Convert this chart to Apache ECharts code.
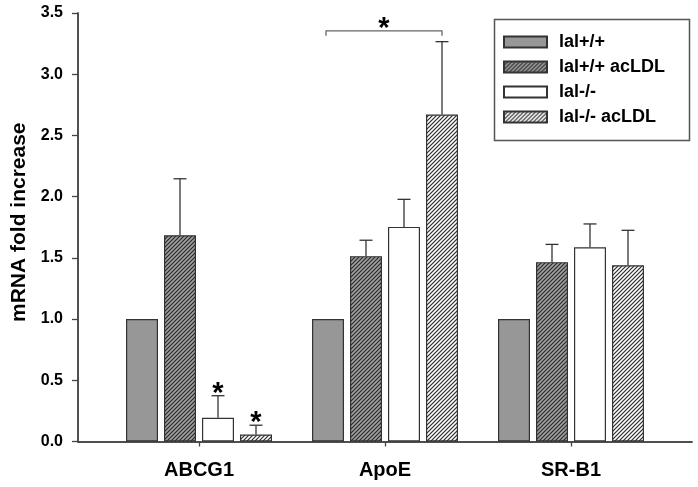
<!DOCTYPE html>
<html>
<head>
<meta charset="utf-8">
<script src="https://cdn.jsdelivr.net/npm/echarts@6/dist/echarts.min.js"></script>
<style>
html,body{margin:0;padding:0;background:#fff;}
#c{width:698px;height:487px;}
</style>
</head>
<body>
<div id="c"></div>
<script>
// ---- data ----
const categories = ['ABCG1', 'ApoE', 'SR-B1'];
const seriesNames = ['lal+/+', 'lal+/+ acLDL', 'lal-/-', 'lal-/- acLDL'];
const wt      = [1.0, 1.0, 1.0];
const wtAc    = [1.685, 1.514, 1.465];
const ko      = [0.193, 1.753, 1.587];
const koAc    = [0.057, 2.67, 1.44];
const wtErr   = [0, 0, 0];
const wtAcErr = [0.461, 0.13, 0.145];
const koErr   = [0.181, 0.225, 0.19];
const koAcErr = [0.076, 0.596, 0.285];
const yTicks  = [0, 0.5, 1.0, 1.5, 2.0, 2.5, 3.0, 3.5];
// significance: stars above bars (category index, bar index)
const starBars = [[0, 2], [0, 3]];
// bracket: category, from bar, to bar, height value
const brackets = [[1, 0, 3, 3.354]];

const FONT = '"Liberation Sans", Arial, Helvetica, sans-serif';
const BAR_W = 32, GAP_PX = 6;
const LINE = '#333';

function hatch(bg, fg) {
  const s = 4;
  const cv = document.createElement('canvas');
  cv.width = s; cv.height = s;
  const ctx = cv.getContext('2d');
  ctx.fillStyle = bg; ctx.fillRect(0, 0, s, s);
  ctx.strokeStyle = fg; ctx.lineWidth = 1.2;
  ctx.beginPath();
  ctx.moveTo(-1, s + 1); ctx.lineTo(s + 1, -1);
  ctx.moveTo(-1, 1); ctx.lineTo(1, -1);
  ctx.moveTo(s - 1, s + 1); ctx.lineTo(s + 1, s - 1);
  ctx.stroke();
  return { image: cv, repeat: 'repeat' };
}

const fills = ['#979797', hatch('#a0a0a0', '#2a2a2a'), '#ffffff', hatch('#ffffff', '#2a2a2a')];
const values = [wt, wtAc, ko, koAc];
const errs = [wtErr, wtAcErr, koErr, koAcErr];

const barSeries = seriesNames.map((name, i) => ({
  name: name,
  type: 'bar',
  xAxisIndex: 2, yAxisIndex: 2,
  barWidth: BAR_W,
  barGap: (GAP_PX / BAR_W * 100) + '%',
  data: values[i],
  itemStyle: { color: fills[i], borderColor: LINE, borderWidth: 1.2 },
  emphasis: { disabled: true },
  animation: false
}));

// error bar data: [cat, barIdx, mean, err]
const errData = [];
values.forEach((arr, b) => arr.forEach((v, c) => { if (errs[b][c] > 0) errData.push([c, b, v, errs[b][c]]); }));

function barOffset(b) { return (b - 1.5) * (BAR_W + GAP_PX); }

const errSeries = {
  type: 'custom', xAxisIndex: 2, yAxisIndex: 2, z: 5, silent: true, animation: false,
  data: errData,
  encode: { x: 0, y: 2 },
  renderItem: function (params, api) {
    const c = api.value(0), b = api.value(1), m = api.value(2), e = api.value(3);
    const base = api.coord([c, m]);
    const top = api.coord([c, m + e]);
    const x = base[0] + barOffset(b);
    return {
      type: 'group',
      children: [
        { type: 'line', shape: { x1: x, y1: base[1], x2: x, y2: top[1] }, style: { stroke: LINE, lineWidth: 1.3 } },
        { type: 'line', shape: { x1: x - 6.5, y1: top[1], x2: x + 6.5, y2: top[1] }, style: { stroke: LINE, lineWidth: 1.3 } }
      ]
    };
  }
};

const starData = starBars.map(([c, b]) => [c, b, values[b][c] + errs[b][c]]);
const starSeries = {
  type: 'custom', xAxisIndex: 2, yAxisIndex: 2, z: 6, silent: true, animation: false,
  data: starData,
  encode: { x: 0, y: 2 },
  renderItem: function (params, api) {
    const c = api.value(0), b = api.value(1), t = api.value(2);
    const p = api.coord([c, t]);
    return { type: 'text', style: { text: '*', x: p[0] + barOffset(b), y: p[1] - 2, fontSize: 29, fontWeight: 'bold', fontFamily: FONT, fill: '#000', align: 'center', verticalAlign: 'middle' } };
  }
};

const bracketSeries = {
  type: 'custom', xAxisIndex: 2, yAxisIndex: 2, z: 6, silent: true, animation: false,
  data: brackets,
  encode: { x: 0, y: 3 },
  renderItem: function (params, api) {
    const c = api.value(0), b1 = api.value(1), b2 = api.value(2), h = api.value(3);
    const p = api.coord([c, h]);
    const x1 = p[0] + barOffset(b1) - 2, x2 = p[0] + barOffset(b2);
    return {
      type: 'group',
      children: [
        { type: 'polyline', shape: { points: [[x1, p[1] + 5], [x1, p[1]], [x2, p[1]], [x2, p[1] + 5]] }, style: { stroke: '#666', lineWidth: 1.3, fill: null } },
        { type: 'text', style: { text: '*', x: (x1 + x2) / 2, y: p[1] - 2, fontSize: 29, fontWeight: 'bold', fontFamily: FONT, fill: '#000', align: 'center', verticalAlign: 'middle' } }
      ]
    };
  }
};

const axisLineStyle = { color: '#444', width: 1.5 };
const G = { left: 78, right: 6, top: 13, bottom: 45.5 };

const option = {
  backgroundColor: '#fff',
  animation: false,
  textStyle: { fontFamily: FONT },
  grid: [
    { left: G.left, right: G.right, top: G.top, bottom: G.bottom },
    { left: G.left, right: G.right, top: G.top, bottom: G.bottom },
    { left: 106, right: 34, top: G.top, bottom: G.bottom }
  ],
  xAxis: [
    { gridIndex: 0, type: 'value', min: 0, max: 1, position: 'bottom', axisLine: { show: true, lineStyle: axisLineStyle }, axisTick: { show: false }, axisLabel: { show: false }, splitLine: { show: false } },
    { gridIndex: 1, type: 'value', min: 0, max: 1, position: 'top', axisLine: { show: true, lineStyle: axisLineStyle }, axisTick: { show: false }, axisLabel: { show: false }, splitLine: { show: false } },
    { gridIndex: 2, type: 'category', data: categories, axisLine: { show: false },
      axisTick: { show: true, alignWithLabel: true, length: 5, lineStyle: { color: '#444', width: 1.3 } },
      axisLabel: { color: '#000', fontSize: 20, fontWeight: 'bold', fontFamily: FONT, margin: 19 } }
  ],
  yAxis: [
    { gridIndex: 0, type: 'value', min: 0, max: 3.5, interval: 0.5, position: 'left',
      axisLine: { show: true, lineStyle: axisLineStyle },
      axisTick: { show: true, length: 6, lineStyle: { color: '#444', width: 1.3 } },
      axisLabel: { color: '#000', fontSize: 16, fontWeight: 'bold', fontFamily: FONT, margin: 15,
        formatter: function (v) { const t = yTicks.find(k => Math.abs(k - v) < 1e-9); return t === undefined ? '' : t.toFixed(1); } },
      splitLine: { show: false },
      name: 'mRNA fold increase', nameLocation: 'middle', nameRotate: 90, nameGap: 45,
      nameTextStyle: { color: '#000', fontSize: 21, fontWeight: 'bold', fontFamily: FONT, padding: [0, 0, 0, 10] } },
    { gridIndex: 1, type: 'value', min: 0, max: 3.5, position: 'right', axisLine: { show: true, lineStyle: axisLineStyle }, axisTick: { show: false }, axisLabel: { show: false }, splitLine: { show: false } },
    { gridIndex: 2, type: 'value', min: 0, max: 3.5, show: false }
  ],
  legend: {
    data: seriesNames,
    orient: 'vertical',
    left: 503, top: 33,
    padding: 0,
    itemWidth: 43, itemHeight: 11, itemGap: 7,
    icon: 'rect',
    selectedMode: false,
    textStyle: { color: '#000', fontSize: 18, fontWeight: 'bold', fontFamily: FONT, padding: [0, 0, 0, 7] }
  },
  graphic: [
    { type: 'rect', left: 492, top: 17, shape: { width: 195, height: 121 }, style: { fill: null, stroke: '#555', lineWidth: 1.5 }, z: 10, silent: true }
  ],
  series: barSeries.concat([errSeries, starSeries, bracketSeries])
};

const chart = echarts.init(document.getElementById('c'), null, { renderer: 'canvas' });
chart.setOption(option);
</script>
</body>
</html>
